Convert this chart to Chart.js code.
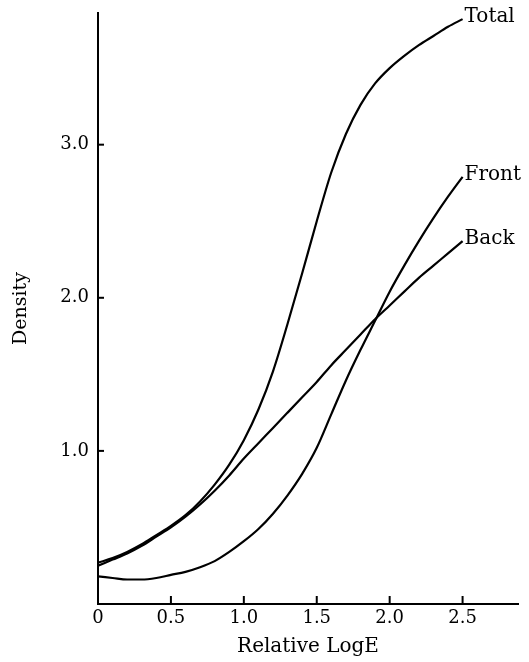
<!DOCTYPE html>
<html>
<head>
<meta charset="utf-8">
<script src="https://cdn.jsdelivr.net/npm/chart.js@4/dist/chart.umd.min.js"></script>
<style>
  html, body { margin: 0; padding: 0; background: #fff; }
  #wrap { width: 529px; height: 662px; }
</style>
</head>
<body>
<div id="wrap"><canvas id="myChart"></canvas></div>
<script>
// values
const logE = [0, 0.1, 0.2, 0.3, 0.4, 0.5, 0.6, 0.7, 0.8, 0.9, 1.0, 1.1, 1.2,
  1.3, 1.4, 1.5, 1.6, 1.7, 1.8, 1.9, 2.0, 2.1, 2.2, 2.3, 2.4, 2.5];
const totalDensity = [0.27, 0.30, 0.34, 0.39, 0.45, 0.51, 0.58, 0.67, 0.78, 0.91, 1.07, 1.27, 1.52,
  1.83, 2.16, 2.50, 2.82, 3.07, 3.26, 3.40, 3.50, 3.58, 3.65, 3.71, 3.77, 3.82];
const frontDensity = [0.18, 0.17, 0.16, 0.16, 0.17, 0.19, 0.21, 0.24, 0.28, 0.34, 0.41, 0.49, 0.59,
  0.71, 0.85, 1.02, 1.24, 1.46, 1.66, 1.85, 2.04, 2.21, 2.37, 2.52, 2.66, 2.79];
const backDensity = [0.25, 0.29, 0.33, 0.38, 0.44, 0.50, 0.57, 0.65, 0.74, 0.84, 0.95, 1.05, 1.15,
  1.25, 1.35, 1.45, 1.56, 1.66, 1.76, 1.86, 1.95, 2.04, 2.13, 2.21, 2.29, 2.37];
const seriesNames = ["Total", "Front", "Back"];
const xTickValues = [0, 0.5, 1, 1.5, 2, 2.5];
const xTickLabels = ["0", "0.5", "1.0", "1.5", "2.0", "2.5"];
const yTickValues = [1, 2, 3];
const yTickLabels = ["1.0", "2.0", "3.0"];

const serif = "'DejaVu Serif', serif";

function toPoints(ys) {
  return ys.map((y, i) => ({ x: logE[i], y: y }));
}

// ticks in the original point into the plot
const inwardTicks = {
  id: "inwardTicks",
  afterDraw(chart) {
    const ctx = chart.ctx;
    const xs = chart.scales.x;
    const ys = chart.scales.y;
    ctx.save();
    ctx.strokeStyle = "#000";
    ctx.lineWidth = 2;
    xTickValues.forEach((v) => {
      if (v === 0) return;
      const px = xs.getPixelForValue(v);
      ctx.beginPath();
      ctx.moveTo(px, xs.top);
      ctx.lineTo(px, xs.top - 8);
      ctx.stroke();
    });
    yTickValues.forEach((v) => {
      const py = ys.getPixelForValue(v);
      ctx.beginPath();
      ctx.moveTo(ys.right, py);
      ctx.lineTo(ys.right + 6, py);
      ctx.stroke();
    });
    ctx.restore();
  },
};

// curve names written at the end of each curve
const endLabels = {
  id: "endLabels",
  afterDatasetsDraw(chart) {
    const ctx = chart.ctx;
    ctx.save();
    ctx.fillStyle = "#000";
    ctx.font = "20px " + serif;
    ctx.textBaseline = "middle";
    ctx.textAlign = "left";
    chart.data.datasets.forEach((ds, i) => {
      const meta = chart.getDatasetMeta(i);
      const last = meta.data[meta.data.length - 1];
      ctx.fillText(ds.label, last.x + 2, last.y - 2);
    });
    ctx.restore();
  },
};

let myChart = document.getElementById("myChart").getContext("2d");
let myGraph = new Chart(myChart, {
  type: "line",
  data: {
    datasets: [
      { label: seriesNames[0], data: toPoints(totalDensity) },
      { label: seriesNames[1], data: toPoints(frontDensity) },
      { label: seriesNames[2], data: toPoints(backDensity) },
    ],
  },
  options: {
    responsive: true,
    maintainAspectRatio: false,
    animation: false,
    layout: { padding: { top: 13, right: 11, left: 0, bottom: 0 } },
    elements: {
      line: { borderColor: "#000", borderWidth: 2.2, cubicInterpolationMode: "monotone", fill: false },
      point: { radius: 0 },
    },
    plugins: { legend: { display: false }, tooltip: { enabled: false } },
    scales: {
      x: {
        type: "linear",
        min: 0,
        max: 2.88,
        afterBuildTicks: (scale) => {
          scale.ticks = xTickValues.map((v) => ({ value: v }));
        },
        afterFit: (scale) => {
          scale.height = 58;
          scale.paddingLeft = 0;
          scale.paddingRight = 0;
        },
        ticks: {
          color: "#000",
          font: { family: serif, size: 18 },
          padding: 4,
          maxRotation: 0,
          callback: (v) => xTickLabels[xTickValues.indexOf(v)],
        },
        grid: { display: false, drawTicks: false },
        border: { display: true, color: "#000", width: 2 },
        title: {
          display: true,
          text: "Relative LogE",
          color: "#000",
          font: { family: serif, size: 20 },
          padding: { top: 0, bottom: 3 },
        },
      },
      y: {
        type: "linear",
        min: 0,
        max: 3.86,
        afterBuildTicks: (scale) => {
          scale.ticks = yTickValues.map((v) => ({ value: v }));
        },
        afterFit: (scale) => {
          scale.width = 98;
          scale.paddingTop = 0;
          scale.paddingBottom = 0;
        },
        ticks: {
          color: "#000",
          font: { family: serif, size: 18 },
          padding: 9,
          callback: (v) => yTickLabels[yTickValues.indexOf(v)],
        },
        grid: { display: false, drawTicks: false },
        border: { display: true, color: "#000", width: 2 },
        title: {
          display: true,
          text: "Density",
          color: "#000",
          font: { family: serif, size: 19 },
          padding: { top: 10, bottom: 0 },
        },
      },
    },
  },
  plugins: [inwardTicks, endLabels],
});
</script>
</body>
</html>
